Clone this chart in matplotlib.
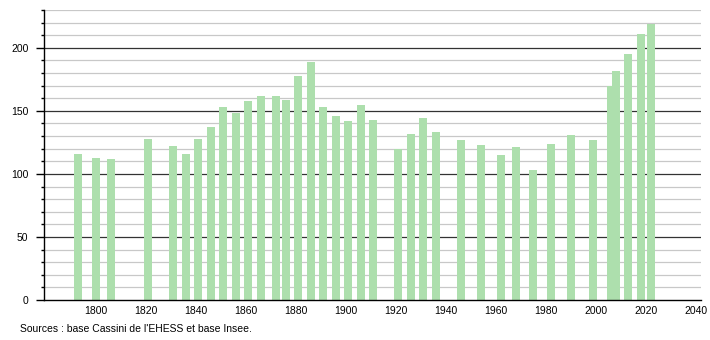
import matplotlib
matplotlib.use("Agg")
import matplotlib.pyplot as plt
from matplotlib.ticker import MultipleLocator

years = [1793, 1800, 1806, 1821, 1831, 1836, 1841, 1846, 1851, 1856, 1861, 1866,
         1872, 1876, 1881, 1886, 1891, 1896, 1901, 1906, 1911, 1921, 1926, 1931,
         1936, 1946, 1954, 1962, 1968, 1975, 1982, 1990, 1999, 2006, 2008, 2013,
         2018, 2022]
population = [116, 113, 112, 128, 122, 116, 128, 137, 153, 148, 158, 162,
              162, 159, 178, 189, 153, 146, 142, 155, 143, 120, 132, 144,
              133, 127, 123, 115, 121, 103, 124, 131, 127, 170, 182, 195,
              211, 219]
x_ticks = [1800, 1820, 1840, 1860, 1880, 1900, 1920, 1940, 1960, 1980, 2000, 2020, 2040]
y_ticks = [0, 50, 100, 150, 200]
source = "Sources : base Cassini de l'EHESS et base Insee."

plt.rcParams['font.family'] = ['Liberation Sans', 'DejaVu Sans']

fig = plt.figure(figsize=(7.1, 3.4), dpi=100)
ax = fig.add_axes([44.3 / 710, 1 - 300 / 340, (700.7 - 44.3) / 710, 290 / 340])

ax.set_xlim(1779.4, 2042)
ax.set_ylim(0, 230)

# grid
for v in range(10, 231, 10):
    if v % 50 == 0:
        ax.axhline(v, color='#333333', lw=0.9, zorder=1)
    else:
        ax.axhline(v, color='#c8c8c8', lw=0.9, zorder=1)

ax.bar(years, population, width=3.2, color='#addfad', zorder=2, linewidth=0)

for s in ['top', 'right']:
    ax.spines[s].set_visible(False)
ax.spines['left'].set_color('black')
ax.spines['bottom'].set_color('black')
ax.spines['left'].set_linewidth(1)
ax.spines['bottom'].set_linewidth(1)

ax.set_yticks(y_ticks)
ax.yaxis.set_minor_locator(MultipleLocator(10))
ax.tick_params(axis='y', which='major', length=5.5, width=1, labelsize=7.5, pad=6)
ax.tick_params(axis='y', which='minor', length=2.5, width=1)
ax.set_xticks(x_ticks)
ax.tick_params(axis='x', which='major', length=0, labelsize=7.5, pad=4)

fig.text(20 / 710, 1 - 329 / 340, source, fontsize=7.5, va='center', ha='left')

fig.savefig("out.png", dpi=100)
